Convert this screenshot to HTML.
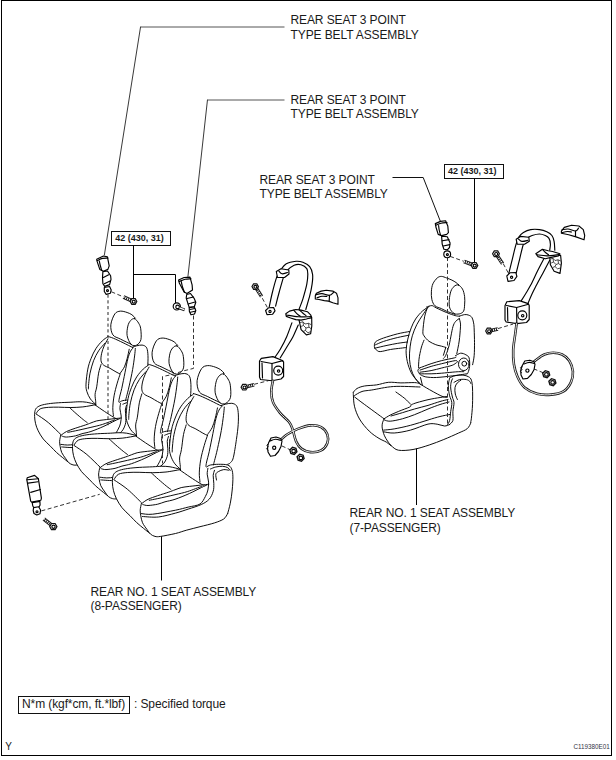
<!DOCTYPE html>
<html><head><meta charset="utf-8">
<style>
html,body{margin:0;padding:0;background:#fff;}
body{width:616px;height:760px;overflow:hidden;}
svg{display:block;}
text{font-family:"Liberation Sans",sans-serif;fill:#1a1a1a;}
.t{font-size:12px;letter-spacing:-0.1px;}
.b{font-size:9px;font-weight:bold;}
.ln{fill:none;stroke:#000;stroke-width:0.95;vector-effect:non-scaling-stroke;stroke-linejoin:round;stroke-linecap:round;}
.ld{fill:none;stroke:#555;stroke-width:1;}
.sil{fill:#fff;stroke:none;}
.parts .ln{stroke-width:1.15;}
.ds{fill:none;stroke:#333;stroke-width:1;stroke-dasharray:4 2.5;}
</style></head>
<body>
<svg width="616" height="760" viewBox="0 0 616 760">
<!-- frame -->
<rect x="1.5" y="0.5" width="610" height="755" fill="none" stroke="#000" stroke-width="1"/>

<!-- labels -->
<text class="t" x="290.5" y="24">REAR SEAT 3 POINT</text>
<text class="t" x="290.5" y="38.7">TYPE BELT ASSEMBLY</text>
<text class="t" x="290.5" y="104">REAR SEAT 3 POINT</text>
<text class="t" x="290.5" y="117.7">TYPE BELT ASSEMBLY</text>
<text class="t" x="259.5" y="184">REAR SEAT 3 POINT</text>
<text class="t" x="259.5" y="197.9">TYPE BELT ASSEMBLY</text>
<text class="t" x="349.5" y="517">REAR NO. 1 SEAT ASSEMBLY</text>
<text class="t" x="349.5" y="531.7">(7-PASSENGER)</text>
<text class="t" x="90.5" y="595.7">REAR NO. 1 SEAT ASSEMBLY</text>
<text class="t" x="90.5" y="609.8">(8-PASSENGER)</text>

<!-- torque legend -->
<rect x="18.5" y="696.5" width="111" height="17" fill="none" stroke="#111" stroke-width="1"/>
<text class="t" x="22" y="707.6">N*m (kgf*cm, ft.*lbf)</text>
<text class="t" x="134" y="707.6">: Specified torque</text>
<text x="5.2" y="750.4" style="font-size:10px">Y</text>
<text x="573.5" y="749.2" style="font-size:6.3px;fill:#334">C119380E01</text>

<!-- torque boxes -->
<rect x="111.5" y="231.5" width="59" height="14" fill="#fff" stroke="#111" stroke-width="1"/>
<text class="b" x="115.2" y="240.7">42 (430, 31)</text>

<rect x="444.5" y="164.5" width="59" height="14" fill="#fff" stroke="#111" stroke-width="1"/>
<text class="b" x="448" y="174.3">42 (430, 31)</text>
<polyline points="392.5,177.5 423.2,177.5 440.4,221.4" fill="none" stroke="#111" stroke-width="1"/>
<line x1="474.5" y1="178.6" x2="474.5" y2="262" stroke="#000" stroke-width="1"/>
<!-- leader lines -->
<line x1="284.5" y1="27" x2="140.6" y2="27" stroke="#555" stroke-width="1"/>
<line x1="140.6" y1="26.6" x2="104.3" y2="255.4" stroke="#222" stroke-width="0.9"/>
<line x1="284.5" y1="100" x2="207.5" y2="100" stroke="#555" stroke-width="1"/>
<line x1="207.5" y1="99.6" x2="187.9" y2="276.8" stroke="#222" stroke-width="0.9"/>
<line x1="133.5" y1="245.5" x2="133.5" y2="298" stroke="#000" stroke-width="1"/>
<polyline points="133.5,274.5 175.5,274.5 175.5,303" fill="none" stroke="#000" stroke-width="1"/>
<line x1="161.5" y1="536" x2="161.5" y2="580.5" stroke="#000" stroke-width="1"/>
<line x1="416.5" y1="448.5" x2="416.5" y2="505" stroke="#000" stroke-width="1"/>

<path class="ln" d="M455.1,314.4C454.4,314.1 452.3,313.3 450.9,312.8C449.5,312.3 448.3,312.0 446.7,311.3C445.1,310.6 443.3,309.5 441.4,308.6C439.4,307.7 436.6,307.3 435.0,305.8C433.4,304.3 432.5,302.1 431.9,299.7C431.3,297.3 431.2,293.8 431.4,291.2C431.6,288.6 431.9,286.0 432.9,283.8C433.9,281.6 435.8,279.2 437.2,278.0C438.6,276.8 439.8,276.4 441.4,276.4C443.0,276.4 444.9,277.4 446.7,278.0C448.4,278.6 450.3,279.4 451.9,280.1C453.4,280.9 454.9,281.7 456.0,282.5C457.1,283.3 458.3,284.6 458.8,285.0"/>
<path class="ln" d="M458.3,284.9C459.7,285.3 461.4,287.2 462.5,289.1C463.6,291.0 464.2,293.9 464.6,296.5C465.0,299.1 464.8,302.4 464.6,304.9C464.4,307.4 464.4,309.8 463.5,311.3C462.6,312.8 460.9,313.5 459.3,313.9C457.7,314.2 455.6,314.4 454.0,313.4C452.4,312.4 450.6,310.4 449.8,308.1C449.0,305.8 449.1,302.5 449.3,299.7C449.5,296.9 450.1,293.4 450.9,291.2C451.7,289.0 452.8,287.6 454.0,286.5C455.2,285.4 456.9,284.5 458.3,284.9Z"/>
<path class="ln" d="M429.0,306.7C427.9,307.4 424.5,309.1 422.3,311.2C420.1,313.2 417.5,316.2 415.6,319.0C413.8,321.8 412.5,324.5 411.2,327.9C409.9,331.2 408.6,335.4 407.8,339.1C407.0,342.8 406.2,346.6 406.1,350.3C406.0,354.0 406.5,357.8 407.3,361.5C408.1,365.2 409.6,369.5 411.2,372.6C412.8,375.8 415.1,378.3 416.8,380.4C418.5,382.4 420.5,384.1 421.2,384.9"/>
<path class="ln" d="M426.6,307.0C427.5,306.8 430.3,305.5 431.9,305.6C433.5,305.7 433.6,306.6 436.1,307.8C438.6,309.0 443.5,311.3 446.7,312.6C449.9,313.9 453.0,315.0 455.1,315.6C457.2,316.2 458.6,316.1 459.3,316.2"/>
<path class="ln" d="M459.3,316.2C460.2,315.9 463.0,314.8 464.6,314.6C466.2,314.4 467.6,314.7 468.8,315.2C470.0,315.7 471.2,316.3 472.0,317.6C472.8,318.9 473.2,320.8 473.6,322.9C474.0,325.0 474.1,326.7 474.2,330.0C474.3,333.3 474.5,338.4 474.5,342.6C474.5,346.8 474.5,351.6 474.2,355.3C473.9,359.0 472.9,363.1 472.6,364.7"/>
<path class="ln" d="M426.8,308.9C426.1,310.0 424.0,313.0 422.3,315.6C420.6,318.2 418.5,321.2 416.8,324.6C415.1,328.0 413.4,332.1 412.3,335.8C411.2,339.5 410.6,343.0 410.1,346.9C409.6,350.8 409.3,355.5 409.5,359.2C409.7,362.9 410.4,366.3 411.2,369.3C412.0,372.3 413.2,374.9 414.5,377.1C415.8,379.3 418.2,381.8 419.0,382.7"/>
<path class="ln" d="M427.4,307.8C426.9,309.3 425.4,312.9 424.6,316.8C423.9,320.7 423.0,328.1 422.9,331.3C422.8,334.5 423.0,334.1 424.0,335.8C425.0,337.5 427.0,339.8 429.0,341.3C431.0,342.8 434.0,343.9 435.8,344.7C437.6,345.4 438.3,345.4 440.0,345.8C441.7,346.2 444.8,347.1 445.8,347.4"/>
<path class="ln" d="M459.3,318.6C458.8,319.0 457.2,319.7 456.2,320.8C455.2,321.9 454.3,322.9 453.5,325.0C452.7,327.1 452.2,329.7 451.5,333.2C450.8,336.7 449.9,342.1 449.0,345.8C448.1,349.5 446.7,353.2 445.8,355.3C444.9,357.4 443.8,357.9 443.4,358.4"/>
<path class="ln" d="M459.3,318.6C459.5,319.3 460.2,321.3 460.4,322.9C460.6,324.5 460.6,325.0 460.4,328.0C460.2,331.0 459.8,336.7 459.2,341.0C458.6,345.3 457.2,351.6 456.8,353.7"/>
<path class="ln" d="M424.0,340.2C423.5,341.5 422.0,344.8 421.2,348.0C420.4,351.2 419.4,355.9 419.0,359.2C418.6,362.4 418.6,366.1 418.5,367.5"/>
<path class="ln" d="M420.5,377.5L422.3,384.9"/>
<path class="ln" d="M445.8,347.4L443.4,355.3"/>
<path class="ln" d="M419.5,368.0C421.4,367.3 427.4,364.9 431.1,363.7C434.8,362.5 437.8,361.6 441.7,360.6C445.6,359.6 451.9,358.5 454.3,357.9C456.7,357.3 455.7,357.1 456.0,357.0"/>
<path class="ln" d="M420.0,370.1C421.9,369.5 427.5,367.5 431.1,366.4C434.7,365.3 437.6,364.7 441.7,363.7C445.8,362.7 452.8,360.9 455.4,360.6C458.0,360.4 457.1,361.9 457.5,362.2"/>
<path class="ln" d="M420.0,372.2C421.9,371.9 427.5,371.3 431.1,370.6C434.7,369.9 438.2,368.9 441.7,368.0C445.2,367.1 449.8,366.2 452.2,365.3C454.6,364.4 455.7,363.1 456.4,362.7"/>
<path class="ln" d="M419.5,373.8C421.4,373.8 427.4,373.9 431.1,373.8C434.8,373.7 438.2,373.5 441.7,373.2C445.2,372.9 449.4,372.4 452.2,372.2C455.0,371.9 456.6,371.8 458.5,371.7C460.4,371.6 462.9,371.7 463.8,371.7"/>
<path class="ln" d="M419.5,368.0C419.2,368.4 417.9,369.6 417.9,370.6C417.9,371.6 419.2,373.3 419.5,373.8"/>
<path class="ln" d="M420.6,374.8C421.5,375.1 423.2,376.4 425.8,376.9C428.4,377.3 432.0,377.7 436.4,377.5C440.8,377.3 447.1,376.5 452.2,375.9C457.3,375.3 464.5,374.1 467.0,373.8"/>
<path class="ln" d="M455.4,355.8C456.3,355.4 458.9,353.4 460.6,353.2C462.4,353.0 464.5,354.0 465.9,354.8C467.3,355.6 468.5,356.0 469.1,357.9C469.7,359.8 469.8,363.9 469.6,366.4C469.4,368.9 468.4,371.5 468.0,372.7C467.6,373.9 467.2,373.6 467.0,373.8"/>
<ellipse cx="463.8" cy="364.3" rx="5.3" ry="6.3" class="ln"/><circle cx="464.3" cy="363.7" r="2.4" class="ln"/>
<path class="ln" d="M409.5,331.5C407.5,331.9 401.6,332.8 397.3,333.9C393.0,335.0 387.1,336.8 383.6,338.0C380.1,339.2 377.6,340.3 376.1,341.4C374.6,342.5 374.6,343.7 374.4,344.8C374.2,345.9 374.4,347.3 374.8,348.2C375.2,349.1 375.9,349.6 376.8,350.2C377.7,350.8 377.9,351.7 380.2,351.6C382.5,351.5 387.0,350.1 390.4,349.5C393.8,348.9 398.1,348.5 400.7,348.2C403.3,347.9 405.2,347.6 406.1,347.5"/>
<path class="ln" d="M375.5,344.8C376.9,344.2 380.0,342.6 383.6,341.4C387.2,340.2 393.1,338.6 397.3,337.6C401.5,336.6 407.0,335.6 408.9,335.2"/>
<path class="ln" d="M374.8,348.2C376.8,347.7 383.2,346.2 387.0,345.4C390.8,344.6 393.9,344.0 397.3,343.4C400.7,342.8 405.8,342.2 407.5,342.0"/>
<path class="ln" d="M353.4,392.2C354.0,391.6 355.2,389.5 357.0,388.5C358.8,387.5 361.1,386.6 364.4,386.0C367.6,385.4 372.4,385.5 376.5,384.9C380.6,384.3 384.6,382.6 388.7,382.3C392.8,382.0 396.6,382.8 400.9,382.9C405.2,382.9 411.7,382.5 414.7,382.6C417.7,382.7 418.3,383.3 419.0,383.4"/>
<path class="ln" d="M353.4,392.2C353.4,392.8 353.2,393.6 353.4,396.0C353.6,398.4 353.6,403.0 354.6,406.8C355.6,410.6 357.1,414.9 359.5,419.0C361.9,423.1 365.9,427.9 369.2,431.1C372.4,434.3 376.1,436.6 379.0,438.4C381.9,440.2 384.3,440.9 386.3,442.1C388.3,443.3 389.1,444.4 391.1,445.7C393.1,447.0 394.8,449.6 398.4,450.2C402.0,450.8 407.9,450.4 413.0,449.5C418.1,448.6 424.1,446.7 429.2,445.0C434.3,443.3 438.9,441.5 443.8,439.5C448.7,437.5 454.5,434.9 458.4,433.1C462.3,431.3 465.1,430.4 467.2,428.7C469.3,427.0 470.3,423.8 470.9,422.8"/>
<path class="ln" d="M419.0,383.4C420.2,384.1 422.7,385.7 426.3,387.8C429.9,389.9 437.5,394.2 440.9,395.8C444.3,397.4 445.8,397.1 446.8,397.3"/>
<path class="ln" d="M449.6,377.9C450.5,377.5 453.0,376.2 455.2,375.7C457.4,375.2 460.8,374.9 463.0,375.1C465.2,375.3 467.2,376.0 468.6,376.8C470.0,377.6 470.8,378.3 471.4,380.2C472.0,382.1 472.3,383.9 472.5,388.0C472.7,392.1 472.7,399.8 472.5,404.8C472.3,409.8 471.7,415.2 471.4,418.2C471.1,421.2 470.6,422.0 470.5,422.8"/>
<path class="ln" d="M454.0,382.4C454.9,381.9 457.5,380.1 459.6,379.6C461.7,379.1 464.7,379.3 466.4,379.6C468.1,379.9 469.0,380.7 469.7,381.3C470.4,381.9 470.6,383.1 470.8,383.5"/>
<path class="ln" d="M461.0,380.2C460.4,380.7 458.2,381.8 457.2,383.0C456.2,384.2 455.3,385.7 455.0,387.5C454.7,389.3 454.9,392.0 455.3,394.0C455.7,396.0 457.0,398.6 457.4,399.5"/>
<path class="ln" d="M449.6,378.5C449.4,379.2 448.8,381.4 448.6,383.0C448.4,384.6 448.2,385.9 448.4,388.0C448.6,390.1 449.0,393.4 449.6,395.8C450.2,398.2 451.6,400.0 451.8,402.6C452.0,405.2 451.1,408.5 450.7,411.5C450.3,414.5 450.2,418.2 449.6,420.5C449.0,422.8 447.7,424.2 447.3,425.0"/>
<path class="ln" d="M452.5,378.8C452.3,379.3 451.5,380.5 451.2,382.0C450.9,383.5 450.5,385.5 450.7,388.0C450.9,390.5 451.8,394.6 452.4,397.0C452.9,399.4 453.9,400.2 454.0,402.6C454.1,405.0 453.1,408.5 452.9,411.5C452.7,414.5 453.4,418.4 452.9,420.5C452.3,422.6 450.2,423.8 449.6,424.4"/>
<path class="ln" d="M354.6,395.5C355.8,394.8 359.1,392.4 362.0,391.5C364.9,390.6 366.4,390.8 371.7,390.0C377.0,389.2 385.6,387.0 393.6,386.5C401.7,386.0 415.6,386.9 420.0,387.0"/>
<path class="ln" d="M354.6,397.0C356.2,398.2 359.4,400.7 364.3,404.3C369.2,407.9 380.8,416.4 384.1,418.8"/>
<path class="ln" d="M395.9,392.0C397.4,393.1 402.4,396.5 404.8,398.5C407.2,400.5 409.6,403.2 410.5,404.2"/>
<path class="ln" d="M384.1,418.8C385.1,418.2 387.8,416.3 390.2,415.1C392.6,413.9 395.1,412.9 398.3,411.5C401.6,410.1 407.5,408.1 409.7,407.0C411.9,405.9 410.1,405.5 411.3,404.8C412.5,404.1 414.2,403.5 417.0,402.6C419.8,401.8 424.1,400.6 428.0,399.7C431.9,398.8 436.9,398.0 440.1,397.5C443.3,397.0 445.9,396.7 447.0,396.5"/>
<path class="ln" d="M391.0,416.0C392.9,415.4 398.5,413.9 402.4,412.7C406.3,411.5 410.2,410.2 414.5,409.0C418.8,407.8 423.8,406.6 428.0,405.4C432.2,404.1 436.7,402.5 440.0,401.5C443.3,400.5 446.7,399.8 448.0,399.5"/>
<path class="ln" d="M384.5,420.0C385.4,420.2 387.2,421.4 390.2,421.2C393.2,421.0 398.3,419.9 402.4,418.8C406.4,417.7 410.2,416.3 414.5,414.7C418.8,413.1 423.8,410.7 428.0,409.0C432.2,407.3 436.5,405.7 440.0,404.5C443.5,403.3 447.5,402.4 449.0,402.0"/>
<path class="ln" d="M383.7,430.1C385.4,429.9 389.7,429.7 394.2,428.9C398.7,428.1 404.9,426.8 410.5,425.3C416.1,423.8 423.1,421.5 428.0,420.0C432.9,418.5 436.4,417.4 440.0,416.5C443.6,415.6 448.0,414.8 449.6,414.5"/>
<path class="ln" d="M384.1,418.8C383.8,419.5 382.8,421.5 382.5,422.8C382.2,424.1 382.0,425.5 382.1,426.9C382.2,428.3 382.5,429.5 382.9,431.0C383.3,432.5 383.7,434.1 384.5,435.8C385.3,437.5 386.4,439.4 387.5,441.0C388.6,442.6 390.5,444.9 391.1,445.7"/>
<path class="ln" d="M383.7,431.8C385.4,432.0 389.7,433.3 394.2,433.0C398.7,432.7 404.9,431.6 410.5,430.1C416.1,428.6 423.6,425.1 428.0,424.1C432.4,423.1 434.4,423.9 437.2,424.2C439.9,424.5 442.4,425.9 444.5,426.0C446.6,426.1 448.8,424.8 449.6,424.5"/>
<path class="ds" d="M447.5,257.0 L447.5,424.3"/>
<defs><g id="seat">
<path class="sil" d="M197.5,382.1C197.4,379.1 197.2,376.2 197.9,373.8C198.6,371.4 199.7,369.0 201.4,367.6C203.1,366.2 205.8,365.1 208.3,365.2C210.8,365.3 214.1,367.1 216.6,368.3C219.1,369.5 221.4,370.3 223.5,372.4C225.6,374.5 227.7,377.9 229.0,380.7C230.3,383.5 231.0,386.0 231.1,389.0C231.2,392.0 230.0,396.1 229.7,398.6C229.3,401.1 228.2,402.9 229.0,404.2C229.8,405.5 233.1,405.0 234.5,406.2C235.9,407.4 236.7,408.5 237.3,411.1C237.9,413.8 238.0,418.0 238.0,422.1C238.0,426.2 237.5,431.3 237.3,435.9C237.1,440.5 236.9,445.7 236.6,449.7C236.3,453.7 236.3,457.3 235.5,460.0C234.7,462.7 232.0,463.2 231.6,466.0C231.2,468.8 232.8,472.8 232.9,476.8C233.0,480.8 232.6,485.6 232.2,490.0C231.8,494.4 231.1,499.2 230.3,503.2C229.5,507.1 228.7,511.1 227.6,513.7C226.5,516.3 225.9,517.5 223.7,519.0C221.5,520.5 218.4,521.6 214.5,522.9C210.6,524.2 204.6,525.5 200.0,526.7C195.4,527.9 190.9,529.0 186.8,530.1C182.7,531.2 179.8,532.5 175.5,533.5C171.2,534.5 164.1,535.9 160.7,536.4C157.3,536.9 156.7,536.8 155.0,536.4C153.3,536.0 152.4,535.4 150.5,534.1C148.6,532.8 145.9,530.3 143.6,528.4C141.3,526.5 139.1,524.8 136.8,522.7C134.5,520.6 132.5,518.2 130.0,515.7C127.5,513.2 124.3,510.6 122.0,507.7C119.7,504.8 117.8,501.4 116.4,498.6C115.0,495.8 114.2,493.4 113.5,490.7C112.8,488.0 112.5,485.2 112.4,482.7C112.3,480.2 112.5,477.6 113.0,475.9C113.5,474.2 114.1,473.4 115.2,472.5C116.3,471.6 117.7,470.9 119.8,470.2C121.9,469.5 124.5,469.0 127.7,468.5C130.9,468.0 134.9,467.7 139.1,467.4C143.3,467.1 148.9,467.0 152.7,466.8C156.5,466.6 158.9,466.3 161.8,466.3C164.7,466.3 166.9,466.3 170.0,466.8C173.1,467.3 179.7,469.9 180.4,469.3C181.1,468.7 176.1,465.6 174.4,463.2C172.8,460.8 171.3,457.8 170.5,455.0C169.7,452.2 169.3,450.9 169.5,446.7C169.7,442.5 170.6,434.8 171.5,430.0C172.4,425.2 173.7,421.9 175.2,418.0C176.7,414.1 178.6,410.1 180.7,406.9C182.8,403.7 185.5,400.7 187.6,398.6C189.7,396.5 191.3,395.6 193.1,394.5C194.9,393.4 197.8,394.1 198.5,392.0C199.2,389.9 197.6,385.1 197.5,382.1Z"/>
<path class="ln" d="M220.0,402.6C217.9,401.6 211.1,398.4 207.7,396.6C204.3,394.8 201.2,394.6 199.4,392.0C197.6,389.4 196.7,384.6 197.1,380.7C197.5,376.8 199.8,371.1 201.6,368.6C203.4,366.1 205.4,365.9 207.7,365.6C210.0,365.4 213.1,366.4 215.2,367.1C217.3,367.8 219.0,368.6 220.5,369.6C222.0,370.6 223.6,372.7 224.2,373.3"/>
<path class="ln" d="M223.5,373.9C225.0,374.4 226.9,377.1 228.0,379.0C229.1,380.9 229.9,382.1 230.3,385.2C230.7,388.2 231.2,394.3 230.5,397.3C229.8,400.3 227.6,402.4 225.8,403.3C224.0,404.2 221.5,404.4 219.7,402.6C217.9,400.9 215.8,396.2 215.2,392.8C214.6,389.4 215.4,385.0 216.0,382.2C216.6,379.4 217.8,377.5 219.0,376.1C220.2,374.7 222.0,373.4 223.5,373.9Z"/>
<path class="ln" d="M193.3,393.5C194.4,393.9 197.2,394.6 200.1,395.8C203.0,397.0 207.2,399.0 210.7,400.7C214.2,402.4 219.5,405.1 221.3,406.0"/>
<path class="ln" d="M221.3,405.6C222.1,405.4 224.1,404.5 225.8,404.1C227.6,403.7 230.0,403.1 231.8,403.3C233.6,403.6 235.3,404.1 236.4,405.6C237.5,407.1 237.9,409.2 238.2,412.4C238.5,415.5 238.5,420.0 238.2,424.5C237.9,429.0 237.2,434.1 236.4,439.6C235.6,445.1 234.3,453.8 233.3,457.7C232.3,461.6 231.2,461.7 230.3,462.8C229.4,463.9 228.1,464.1 227.6,464.3"/>
<path class="ln" d="M193.1,394.5C192.2,395.2 189.7,396.5 187.6,398.6C185.5,400.7 182.8,403.7 180.7,406.9C178.6,410.1 176.7,414.1 175.2,418.0C173.7,421.9 172.4,425.2 171.5,430.0C170.6,434.8 169.7,442.5 169.5,446.7C169.3,450.9 169.7,452.2 170.5,455.0C171.3,457.8 172.8,460.8 174.4,463.2C176.1,465.6 179.4,468.3 180.4,469.3"/>
<path class="ln" d="M190.4,401.4C189.2,402.8 185.6,406.5 183.5,409.7C181.4,412.9 179.5,416.6 177.9,420.7C176.3,424.8 174.9,430.3 174.0,434.5C173.1,438.7 172.8,443.1 172.5,446.0C172.2,448.9 172.2,451.0 172.2,452.0"/>
<path class="ln" d="M193.8,396.6C193.1,397.9 190.8,401.6 189.7,404.2C188.5,406.8 187.5,409.6 186.9,412.4C186.3,415.1 185.8,418.5 186.2,420.7C186.5,422.9 187.4,424.1 189.0,425.5C190.6,426.9 193.6,427.7 195.9,429.0C198.2,430.3 201.0,432.1 202.8,433.1C204.6,434.1 206.2,434.9 206.9,435.2"/>
<path class="ln" d="M217.5,407.9C217.1,409.6 216.1,415.1 215.2,418.4C214.3,421.7 213.4,424.9 212.2,427.5C210.9,430.1 208.4,433.2 207.7,434.3"/>
<path class="ln" d="M224.3,407.1C224.2,408.5 224.0,411.5 223.5,415.4C223.0,419.3 222.3,424.9 221.3,430.5C220.3,436.1 218.6,443.7 217.5,448.7C216.4,453.7 215.2,458.0 214.5,460.7C213.8,463.4 213.6,464.3 213.4,465.0"/>
<path class="ln" d="M222.0,406.4C221.5,407.0 220.0,408.1 219.0,410.1C218.0,412.1 217.0,414.5 216.0,418.4C215.0,422.3 214.0,427.9 212.9,433.5C211.8,439.1 210.2,446.9 209.2,451.7C208.1,456.4 207.1,459.6 206.6,462.0C206.1,464.4 206.0,465.6 205.9,466.3"/>
<path class="ln" d="M186.2,424.9C185.8,426.5 184.3,430.4 183.5,434.5C182.7,438.6 182.1,445.8 181.4,449.7C180.8,453.6 179.8,455.2 179.6,458.0C179.4,460.8 180.2,464.2 180.3,466.3C180.4,468.4 180.3,469.6 180.3,470.3"/>
<path class="ln" d="M207.6,435.2C207.0,436.9 205.3,441.5 204.2,445.6C203.0,449.7 201.5,455.1 200.7,459.7C199.9,464.2 199.4,469.2 199.3,472.9C199.2,476.6 199.9,480.6 200.0,482.1"/>
<path class="ln" d="M180.4,469.3C178.7,468.9 173.1,467.3 170.0,466.8C166.9,466.3 164.7,466.3 161.8,466.3C158.9,466.3 156.5,466.6 152.7,466.8C148.9,467.0 143.3,467.1 139.1,467.4C134.9,467.7 130.9,468.0 127.7,468.5C124.5,469.0 121.9,469.5 119.8,470.2C117.7,470.9 116.3,471.6 115.2,472.5C114.1,473.4 113.5,474.2 113.0,475.9C112.5,477.6 112.3,480.2 112.4,482.7C112.5,485.2 112.8,488.0 113.5,490.7C114.2,493.4 115.0,495.8 116.4,498.6C117.8,501.4 119.7,504.8 122.0,507.7C124.3,510.6 127.5,513.2 130.0,515.7C132.5,518.2 134.5,520.6 136.8,522.7C139.1,524.8 141.5,526.7 143.6,528.4C145.7,530.1 148.4,532.2 149.3,533.0"/>
<path class="ln" d="M114.1,479.3C114.8,478.4 116.3,475.3 118.6,474.2C120.9,473.1 124.3,472.8 127.7,472.5C131.1,472.2 134.9,472.3 139.1,472.3C143.3,472.3 148.2,472.8 152.7,472.7C157.2,472.6 161.4,472.5 166.0,472.0C170.6,471.5 177.8,470.0 180.2,469.6"/>
<path class="ln" d="M151.6,473.1C152.7,474.1 155.9,477.1 158.4,479.3C160.9,481.5 164.3,484.4 166.4,486.1C168.5,487.8 170.2,488.9 170.9,489.5"/>
<path class="ln" d="M114.1,479.9C116.4,481.5 123.2,485.7 127.7,489.5C132.2,493.3 139.1,500.4 141.4,502.6"/>
<path class="ln" d="M180.3,470.3C181.9,471.4 186.7,474.8 190.0,477.0C193.3,479.2 197.7,482.0 200.0,483.4C202.3,484.8 203.2,485.1 203.9,485.4"/>
<path class="ln" d="M141.8,503.5C142.8,502.8 145.3,500.6 148.0,499.3C150.7,498.0 154.2,496.9 157.7,495.7C161.2,494.5 165.9,493.1 168.8,492.1C171.7,491.1 172.9,490.6 175.0,489.8C177.1,489.1 178.8,488.2 181.2,487.6C183.6,487.0 186.2,486.8 189.4,486.4C192.7,486.0 197.5,485.5 200.7,485.1C203.9,484.8 207.5,484.4 208.8,484.3"/>
<path class="ln" d="M149.3,500.3C150.7,500.0 153.4,499.5 157.7,498.6C162.0,497.7 170.0,495.9 175.0,494.7C180.0,493.5 183.3,492.9 187.7,491.5C192.1,490.1 199.2,487.2 201.5,486.4"/>
<path class="ln" d="M142.8,504.5C143.7,504.7 145.5,505.6 148.0,505.5C150.5,505.4 154.9,504.8 157.7,504.2C160.5,503.6 162.1,502.6 165.0,501.8C167.9,501.0 170.9,500.7 175.0,499.3C179.1,497.9 185.0,495.5 189.4,493.5C193.8,491.5 198.6,488.9 201.5,487.5C204.4,486.1 206.1,485.4 207.0,485.0"/>
<path class="ln" d="M141.4,503.5C141.2,504.6 140.3,508.1 140.2,510.2C140.1,512.3 140.4,513.8 140.8,515.9C141.2,518.0 141.5,520.4 142.5,522.7C143.5,525.0 145.7,527.6 147.0,529.5C148.3,531.4 149.2,533.0 150.5,534.1C151.8,535.2 153.3,536.0 155.0,536.4C156.7,536.8 157.3,536.9 160.7,536.4C164.1,535.9 171.2,534.5 175.5,533.5C179.8,532.5 182.7,531.2 186.8,530.1C190.9,529.0 195.4,527.9 200.0,526.7C204.6,525.5 210.6,524.2 214.5,522.9C218.4,521.6 221.5,520.5 223.7,519.0C225.9,517.5 226.9,514.6 227.6,513.7"/>
<path class="ln" d="M141.4,513.6C143.3,513.7 147.0,514.8 152.7,514.2C158.4,513.6 169.6,511.4 175.5,510.2C181.4,509.0 184.1,508.1 188.2,507.1C192.3,506.1 197.2,505.8 200.0,504.0C202.8,502.2 204.0,498.9 205.3,496.6C206.6,494.3 207.4,492.4 207.9,490.0C208.4,487.6 208.7,484.7 208.6,482.1C208.5,479.5 207.3,476.5 207.2,474.2C207.1,471.9 207.8,469.3 207.9,468.3"/>
<path class="ln" d="M142.5,516.5C145.2,516.6 152.9,517.6 158.4,517.0C163.9,516.4 170.5,514.4 175.5,513.1C180.5,511.8 183.9,510.5 188.2,509.1C192.5,507.7 197.8,506.1 201.3,504.5C204.8,502.9 207.2,501.4 209.2,499.2C211.2,497.0 212.4,493.9 213.2,491.3C214.0,488.7 213.8,486.0 213.8,483.4C213.8,480.8 213.1,477.7 213.2,475.5C213.3,473.3 214.3,471.2 214.5,470.3"/>
<path class="ln" d="M206.6,467.0C207.2,466.7 208.5,465.4 210.5,465.0C212.5,464.6 215.6,464.3 218.4,464.3C221.2,464.3 225.4,464.2 227.6,465.0C229.8,465.8 230.7,466.9 231.6,468.9C232.5,470.9 232.8,473.3 232.9,476.8C233.0,480.3 232.6,485.6 232.2,490.0C231.8,494.4 231.1,499.2 230.3,503.2C229.5,507.1 228.1,512.0 227.6,513.7"/>
<path class="ln" d="M210.5,469.0C211.4,468.7 213.8,467.4 215.8,467.0C217.8,466.6 220.4,466.2 222.4,466.3C224.4,466.4 226.3,466.9 227.6,467.6C228.9,468.3 229.9,469.9 230.3,470.3"/>
<path class="ln" d="M216.5,480.0C216.4,479.0 215.5,475.6 215.8,474.2C216.1,472.8 217.1,472.4 218.4,471.6C219.7,470.8 221.9,469.8 223.7,469.6C225.5,469.4 228.1,470.2 229.0,470.3"/>
</g></defs>
<use href="#seat" transform="translate(-66.55,-17.9) scale(0.9)"/>
<use href="#seat" transform="translate(-33.15,-5.6) scale(0.94)"/>
<use href="#seat"/>
<g class="parts">
<line x1="108" y1="294.5" x2="108" y2="427.2" stroke="#3a3a3a" stroke-width="1.1" stroke-dasharray="3.2 2.6"/>
<path class="ds" d="M193.5,315.5 L193.5,368.4 L182.6,371.1 L171.1,374.8 L162.5,376.5 L162.5,463.5"/>
<path class="ds" d="M41.4,510.9 L99.7,494.3"/>
<path class="ds" d="M111.4,291.8 L123.0,296.7"/>
<path class="ln" d="M96.7,259.2 L103.4,256.0 L107.4,256.9 L109.2,265.9 L107.9,269.4 L103.4,271.2 L99.8,269.4 L97.1,261.4Z" style="fill:#fff"/>
<path class="ln" d="M97.3,260.6C98.2,260.2 100.7,258.8 102.5,258.4C104.3,258.0 107.1,258.1 108.0,258.0"/>
<path class="ln" d="M99.3,261.0C99.5,261.8 99.9,263.9 100.3,265.5C100.7,267.1 101.5,269.7 101.8,270.5"/>
<path class="ln" d="M102.9,271.6 L107.5,271.0 L110.6,275.7 L111.0,279.3 L109.6,284.6 L104.7,286.4 L102.9,283.7 L102.5,277.5Z" style="fill:#fff"/>
<path class="ln" d="M103.4,277.5 L108.7,274.8"/>
<path class="ln" d="M104.3,283.7 L110.1,281.0"/>
<path class="ln" d="M104.3,287.5 L109.6,286.5 L111.2,290.0 L110.4,293.2 L106.2,294.4 L104.3,291.5Z" style="fill:#fff"/>
<circle class="ln" cx="107.5" cy="290.6" r="1.0" style="fill:#fff"/>
<line x1="123.5" y1="296.9" x2="133.5" y2="301.5" stroke="#1a1a1a" stroke-width="3.8"/>
<line x1="123.5" y1="296.9" x2="133.5" y2="301.5" stroke="#fff" stroke-width="1.9999999999999998" stroke-dasharray="1 1"/>
<polygon points="136.8,301.5 135.2,304.4 131.8,304.4 130.2,301.5 131.8,298.6 135.2,298.6" fill="#fff" stroke="#111" stroke-width="1.2"/>
<circle class="ln" cx="133.7" cy="301.7" r="1.4849999999999999" style="fill:#fff"/>
<path class="ln" d="M178.6,280.1 L184.1,277.5 L190.0,277.1 L192.1,284.8 L192.5,289.9 L187.0,293.6 L184.1,292.1 L179.4,283.3Z" style="fill:#fff"/>
<path class="ln" d="M179.2,281.5C180.2,281.1 183.0,279.8 185.0,279.3C187.0,278.9 190.0,278.9 191.0,278.8"/>
<path class="ln" d="M181.3,281.5C181.5,282.4 181.9,285.2 182.5,287.0C183.1,288.8 184.2,291.6 184.6,292.5"/>
<path class="ln" d="M186.7,294.5 L190.5,293.5 L194.3,298.7 L195.8,302.3 L194.3,306.7 L189.2,307.4 L187.8,303.1 L186.2,298.0Z" style="fill:#fff"/>
<path class="ln" d="M187.0,298.5 L193.5,297.0"/>
<path class="ln" d="M188.2,304.0 L195.0,302.0"/>
<path class="ln" d="M189.2,307.6 L194.3,306.9 L195.8,310.5 L194.5,314.0 L191.0,314.8 L189.4,311.5Z" style="fill:#fff"/>
<path class="ln" d="M190.0,309.5 L194.8,308.5"/>
<path class="ln" d="M190.4,312.3 L195.0,311.2"/>
<circle class="ln" cx="176.8" cy="306.4" r="3.6" style="fill:#fff"/>
<circle class="ln" cx="177.6" cy="306.9" r="1.8" style="fill:#fff"/>
<line x1="179" y1="307.8" x2="184.6" y2="309.8" stroke="#1a1a1a" stroke-width="3"/>
<line x1="179.4" y1="307.9" x2="184.3" y2="309.6" stroke="#fff" stroke-width="1.2"/>
<path class="ln" d="M26.8,479.7 L27.2,477.8 L34.6,475.4 L38.4,478.8 L41.4,498.2 L40.9,500.2 L31.6,502.1 L30.7,501.2Z" style="fill:#fff"/>
<path class="ln" d="M27.2,479.7 L38.4,478.8"/>
<path class="ln" d="M28.2,483.1 L38.0,481.7"/>
<path class="ln" d="M30.7,492.4 L40.4,489.5"/>
<path class="ln" d="M32.2,502.6 L39.9,501.4 L40.1,505.0 L38.6,507.8 L34.5,508.8 L32.8,506.0Z" style="fill:#fff"/>
<path class="ln" d="M33.6,507.6 L38.6,506.8 L40.6,510.0 L40.0,513.8 L36.8,515.0 L34.0,513.5 L33.2,510.5Z" style="fill:#fff"/>
<circle class="ln" cx="37" cy="511.7" r="1.0" style="fill:#fff"/>
<line x1="43.8" y1="518.9" x2="53.3" y2="526.6" stroke="#1a1a1a" stroke-width="3.8"/>
<line x1="43.8" y1="518.9" x2="53.3" y2="526.6" stroke="#fff" stroke-width="1.9999999999999998" stroke-dasharray="1 1"/>
<polygon points="56.9,526.6 55.1,529.7 51.5,529.7 49.7,526.6 51.5,523.5 55.1,523.5" fill="#fff" stroke="#111" stroke-width="1.2"/>
<circle class="ln" cx="53.5" cy="526.8000000000001" r="1.62" style="fill:#fff"/>
<path class="ds" d="M262.3,298.2 L268.6,309.8"/>
<path class="ds" d="M254.1,384.3 L268.4,380.7"/>
<path class="ds" d="M281.8,445.9 L291.6,450.4"/>
<path class="ln" d="M269.3,306.6C269.8,304.5 270.8,298.9 272.0,294.0C273.2,289.1 275.3,281.2 276.6,277.4C277.9,273.6 278.4,273.3 280.0,271.0C281.6,268.7 283.6,265.4 286.3,263.8C289.0,262.2 293.3,261.6 296.1,261.3C298.9,261.1 300.6,261.4 302.9,262.3C305.2,263.2 308.1,264.7 309.7,266.7C311.3,268.7 312.2,271.6 312.6,274.5C313.0,277.4 312.6,280.6 312.1,284.2C311.6,287.8 310.8,291.7 309.7,295.9C308.6,300.1 306.4,307.2 305.8,309.5"/>
<path class="ln" d="M275.6,306.1C276.2,303.6 278.1,296.0 279.5,291.0C280.9,286.0 282.8,279.2 283.9,275.9C285.0,272.6 284.6,272.9 286.3,271.1C288.0,269.3 291.7,266.3 294.1,265.2C296.6,264.1 298.9,264.1 301.0,264.7C303.1,265.3 305.7,267.0 306.8,268.6C307.9,270.2 307.8,271.9 307.8,274.5C307.8,277.1 307.6,280.1 306.8,284.2C306.0,288.2 304.2,294.6 302.9,298.8C301.6,303.0 299.6,307.7 299.0,309.5"/>
<path class="ln" d="M276.3,271.5 L281.0,268.8 L288.8,270.0 L289.0,274.0 L284.5,277.5 L277.5,277.5Z" style="fill:#fff"/>
<path class="ln" d="M279.0,271.2C279.5,271.6 280.6,273.6 282.0,273.8C283.4,274.0 286.6,272.7 287.5,272.5"/>
<path class="ln" d="M265.6,310.5 L268.5,307.8 L273.6,307.5 L275.0,310.8 L272.5,314.3 L267.0,314.6Z" style="fill:#fff"/>
<circle class="ln" cx="270" cy="311.5" r="1.1" style="fill:#fff"/>
<line x1="261.6" y1="296.5" x2="255.2" y2="286.6" stroke="#1a1a1a" stroke-width="3.6"/>
<line x1="261.6" y1="296.5" x2="255.2" y2="286.6" stroke="#fff" stroke-width="1.8" stroke-dasharray="1 1"/>
<polygon points="258.4,286.6 256.8,289.4 253.6,289.4 252.0,286.6 253.6,283.8 256.8,283.8" fill="#fff" stroke="#111" stroke-width="1.2"/>
<circle class="ln" cx="255.39999999999998" cy="286.8" r="1.4400000000000002" style="fill:#fff"/>
<path class="ln" d="M291.9,322.9C291.0,325.2 288.6,332.3 286.7,336.7C284.8,341.1 282.3,345.8 280.3,349.3C278.3,352.8 275.5,356.4 274.5,357.8"/>
<path class="ln" d="M298.3,325.0C297.4,326.9 294.9,333.0 293.0,336.7C291.1,340.4 288.8,343.7 286.7,347.2C284.6,350.7 281.4,356.0 280.3,357.8"/>
<path class="ln" d="M299.0,319.8 L311.7,317.8 L311.8,326.0 L310.6,333.8 L306.4,334.9 L301.1,329.6Z" style="fill:#fff"/>
<path d="M300,322.5 L303,321.8 L305,324 L308.5,323.3 L311.5,324.8 M300.8,326.5 L303.5,325.5 L306,328 L309,327.2 L311.5,329 M303,331.5 L305.5,330.5 L308,332.8 L310.8,331.5 M303,321.8 L303.5,325.5 M308.5,323.3 L309,327.2 M305.5,330.5 L306,328" stroke="#222" stroke-width="0.8" fill="none"/>
<path class="ln" d="M285.8,313.8 L289.5,311.1 L295.8,309.5 L301.1,310.1 L307.4,311.7 L310.6,314.8 L311.7,317.5 L306.4,319.0 L301.1,320.1 L295.8,319.6 L290.6,318.0 L286.3,316.4Z" style="fill:#fff"/>
<path class="ln" d="M286.5,315.0C288.5,315.3 294.4,316.5 298.5,316.8C302.6,317.1 308.9,316.6 311.0,316.6"/>
<path class="ln" d="M293.8,310.2C294.3,310.8 295.7,312.6 296.8,313.6C297.9,314.6 299.7,315.9 300.3,316.3"/>
<path class="ln" d="M299.4,309.9C300.0,310.4 301.9,312.3 303.0,313.2C304.1,314.1 305.5,315.1 306.0,315.5"/>
<path class="ln" d="M259.5,361.0 L261.3,358.4 L272.9,356.6 L281.8,360.2 L283.6,362.0 L283.6,376.5 L281.0,379.0 L272.0,380.7 L260.5,379.5 L259.5,377.0Z" style="fill:#fff"/>
<path class="ln" d="M261.0,361.5 L272.0,363.5 L282.8,360.6"/>
<path class="ln" d="M272.0,363.5 L272.0,380.5"/>
<path class="ln" d="M262.0,363.0 L262.5,378.0"/>
<circle class="ln" cx="278.2" cy="370.6" r="4.5" style="fill:#fff"/>
<circle class="ln" cx="278.6" cy="371" r="1.2" style="fill:#fff"/>
<line x1="254.1" y1="384.8" x2="244.3" y2="387.2" stroke="#1a1a1a" stroke-width="3.6"/>
<line x1="254.1" y1="384.8" x2="244.3" y2="387.2" stroke="#fff" stroke-width="1.8" stroke-dasharray="1 1"/>
<polygon points="247.5,387.2 245.9,390.0 242.7,390.0 241.1,387.2 242.7,384.4 245.9,384.4" fill="#fff" stroke="#111" stroke-width="1.2"/>
<circle class="ln" cx="244.5" cy="387.4" r="1.4400000000000002" style="fill:#fff"/>
<path d="M272.9,380.7C272.6,382.5 271.3,387.8 271.3,391.4C271.3,395.0 271.6,398.5 273.0,402.1C274.4,405.7 277.4,409.6 280.0,412.9C282.6,416.2 286.8,419.1 288.9,421.8C291.0,424.5 291.3,425.6 292.5,428.9C293.7,432.2 294.6,438.1 296.1,441.4C297.6,444.7 299.0,446.8 301.4,448.6C303.8,450.4 307.1,451.8 310.4,452.1C313.7,452.4 318.3,451.9 321.1,450.4C323.9,448.9 326.3,445.9 327.3,443.2C328.3,440.5 328.3,437.0 327.3,434.3C326.3,431.6 323.9,428.6 321.1,427.1C318.3,425.6 314.3,425.1 310.4,425.4C306.5,425.7 301.8,427.4 297.9,428.9C294.0,430.4 289.9,432.6 287.0,434.5C284.1,436.4 281.6,439.1 280.5,440.0" fill="none" stroke="#1a1a1a" stroke-width="2.6" stroke-linecap="round"/>
<path d="M272.9,380.7C272.6,382.5 271.3,387.8 271.3,391.4C271.3,395.0 271.6,398.5 273.0,402.1C274.4,405.7 277.4,409.6 280.0,412.9C282.6,416.2 286.8,419.1 288.9,421.8C291.0,424.5 291.3,425.6 292.5,428.9C293.7,432.2 294.6,438.1 296.1,441.4C297.6,444.7 299.0,446.8 301.4,448.6C303.8,450.4 307.1,451.8 310.4,452.1C313.7,452.4 318.3,451.9 321.1,450.4C323.9,448.9 326.3,445.9 327.3,443.2C328.3,440.5 328.3,437.0 327.3,434.3C326.3,431.6 323.9,428.6 321.1,427.1C318.3,425.6 314.3,425.1 310.4,425.4C306.5,425.7 301.8,427.4 297.9,428.9C294.0,430.4 289.9,432.6 287.0,434.5C284.1,436.4 281.6,439.1 280.5,440.0" fill="none" stroke="#fff" stroke-width="0.9" stroke-linecap="round"/>
<path class="ln" d="M268.5,443.0 L271.0,438.0 L276.0,437.0 L280.5,438.5 L282.0,441.0 L281.0,446.5 L278.5,451.5 L275.0,455.5 L270.5,456.3 L268.0,452.0 L267.5,447.5Z" style="fill:#fff"/>
<path class="ln" d="M270.0,441.0C270.9,440.7 273.7,439.4 275.5,439.3C277.3,439.2 279.9,440.1 280.8,440.3"/>
<path d="M268.6,443.5 L266.8,445.2 L268.3,446.8 L266.6,448.8 L268.2,450.4" stroke="#111" stroke-width="1" fill="none"/>
<circle class="ln" cx="274.2" cy="447.8" r="1.6" style="fill:#fff"/>
<polygon points="296.9,451.8 294.3,454.4 290.9,453.4 289.9,450.0 292.5,447.4 295.9,448.4" fill="#fff" stroke="#111" stroke-width="1.4"/>
<circle class="ln" cx="293.59999999999997" cy="451.09999999999997" r="1.8" style="fill:#fff"/>
<polygon points="304.1,458.6 301.5,461.2 298.1,460.2 297.1,456.8 299.7,454.2 303.1,455.2" fill="#fff" stroke="#111" stroke-width="1.4"/>
<circle class="ln" cx="300.8" cy="457.9" r="1.8" style="fill:#fff"/>
<path class="ln" d="M315.3,295.8 L316.4,293.2 L321.2,291.1 L326.4,290.3 L332.8,291.1 L336.5,293.2 L338.0,297.9 L338.0,304.3 L332.8,302.7 L328.5,301.1 L324.3,300.6 L319.0,299.5 L315.3,299.0Z" style="fill:#fff"/>
<path class="ln" d="M316.0,294.6C317.0,294.4 319.8,293.5 322.0,293.6C324.2,293.7 327.6,295.5 329.5,295.3C331.4,295.1 332.8,293.0 333.5,292.5"/>
<path class="ln" d="M329.5,295.3L329.2,300.8"/>
<path class="ln" d="M317.0,297.8C317.8,297.6 320.4,296.5 322.0,296.3C323.6,296.1 326.0,296.4 326.8,296.4"/>
<path class="ds" d="M450.1,256.4 L463.8,261.3"/>
<path class="ln" d="M435.3,223.6 L440.5,221.4 L445.6,220.8 L447.8,225.9 L448.4,232.7 L446.7,234.4 L441.6,235.6 L438.2,234.4 L435.9,227.0Z" style="fill:#fff"/>
<path class="ln" d="M436.0,225.2C436.8,224.9 439.2,223.6 441.0,223.2C442.8,222.8 446.0,222.7 447.0,222.6"/>
<path class="ln" d="M438.6,225.6C438.7,226.3 438.9,228.4 439.2,230.0C439.5,231.6 440.3,234.2 440.5,235.0"/>
<path class="ln" d="M441.6,236.1 L447.3,236.7 L450.1,243.0 L449.5,247.5 L447.3,249.8 L443.9,249.2 L442.2,244.1Z" style="fill:#fff"/>
<path class="ln" d="M442.3,240.8 L449.0,239.6"/>
<path class="ln" d="M443.2,246.0 L449.8,244.6"/>
<circle class="ln" cx="447.2" cy="254.3" r="3.4" style="fill:#fff"/>
<circle class="ln" cx="447.4" cy="254.6" r="1.0" style="fill:#fff"/>
<line x1="464" y1="261.5" x2="474.5" y2="265.4" stroke="#1a1a1a" stroke-width="3.8"/>
<line x1="464" y1="261.5" x2="474.5" y2="265.4" stroke="#fff" stroke-width="1.9999999999999998" stroke-dasharray="1 1"/>
<polygon points="477.8,265.4 476.1,268.3 472.9,268.3 471.2,265.4 472.9,262.5 476.1,262.5" fill="#fff" stroke="#111" stroke-width="1.2"/>
<circle class="ln" cx="474.7" cy="265.59999999999997" r="1.4849999999999999" style="fill:#fff"/>
<path class="ds" d="M503.2,263.6 L509.5,275.2"/>
<path class="ds" d="M497.9,328.6 L513.0,324.1"/>
<path class="ds" d="M533.6,368.8 L544.3,373.2"/>
<path class="ln" d="M508.8,273.4C509.4,271.0 511.2,263.7 512.4,258.8C513.6,253.9 515.0,247.8 516.1,244.2C517.2,240.5 517.8,238.8 519.0,236.9C520.2,235.0 521.4,233.7 523.4,232.5C525.4,231.3 528.0,230.1 530.7,229.6C533.4,229.1 536.8,229.2 539.5,229.6C542.2,230.0 544.7,230.8 546.8,231.8C548.9,232.8 550.7,233.9 551.9,235.5C553.1,237.1 553.6,238.9 554.1,241.3C554.6,243.7 554.7,248.6 554.8,250.1"/>
<path class="ln" d="M516.1,273.4C516.7,271.0 518.5,263.7 519.7,258.8C520.9,253.9 522.2,247.6 523.4,244.2C524.6,240.8 525.5,239.8 527.0,238.4C528.5,237.0 530.0,236.2 532.1,235.5C534.2,234.8 537.3,234.0 539.5,234.0C541.7,234.0 543.7,234.8 545.3,235.5C546.9,236.2 548.1,237.0 549.0,238.4C549.9,239.8 550.3,242.2 550.4,244.2C550.5,246.1 549.8,249.1 549.7,250.1"/>
<path class="ln" d="M516.2,239.3 L520.5,236.4 L528.8,237.2 L529.3,241.2 L524.5,244.3 L517.2,244.2Z" style="fill:#fff"/>
<path class="ln" d="M518.5,239.0C519.1,239.4 520.4,241.2 522.0,241.4C523.6,241.6 527.0,240.5 528.0,240.3"/>
<path class="ln" d="M506.8,276.0 L510.0,272.8 L515.8,272.6 L516.9,276.3 L514.0,280.5 L508.0,281.4Z" style="fill:#fff"/>
<circle class="ln" cx="511.6" cy="277.2" r="1.1" style="fill:#fff"/>
<line x1="502.6" y1="263.8" x2="496" y2="253.8" stroke="#1a1a1a" stroke-width="3.6"/>
<line x1="502.6" y1="263.8" x2="496" y2="253.8" stroke="#fff" stroke-width="1.8" stroke-dasharray="1 1"/>
<polygon points="499.4,253.8 497.7,256.7 494.3,256.7 492.6,253.8 494.3,250.9 497.7,250.9" fill="#fff" stroke="#111" stroke-width="1.2"/>
<circle class="ln" cx="496.2" cy="254.0" r="1.53" style="fill:#fff"/>
<path class="ln" d="M543.8,258.8C542.8,260.8 539.7,266.6 537.5,271.0C535.3,275.4 532.7,281.3 530.7,285.1C528.7,288.9 527.1,291.3 525.5,294.0C523.9,296.7 521.8,299.9 521.0,301.1"/>
<path class="ln" d="M549.7,260.3C548.6,262.4 545.2,268.9 543.0,273.0C540.8,277.1 538.3,281.6 536.5,285.1C534.7,288.6 533.4,291.0 532.0,294.0C530.6,297.0 528.8,301.4 528.2,302.9"/>
<path class="ln" d="M549.7,255.9 L560.6,255.2 L561.4,263.2 L560.0,273.4 L554.1,271.3 L550.4,264.7Z" style="fill:#fff"/>
<path d="M550.5,259 L553,258.3 L555,260.5 L558,259.8 L560.8,261 M551.2,263 L553.5,262 L556,264.5 L558.5,263.6 L561,265.2 M552.8,267.5 L555,266.5 L557.5,268.8 L560.5,268 M553,258.3 L553.5,262 M558,259.8 L558.5,263.6 M555,266.5 L556,264.5" stroke="#222" stroke-width="0.8" fill="none"/>
<path class="ln" d="M535.8,253.7 L542.4,249.3 L548.2,250.8 L552.6,251.5 L559.9,253.7 L558.4,255.9 L551.1,257.4 L545.3,258.8 L538.0,256.6Z" style="fill:#fff"/>
<path class="ln" d="M537.0,254.8C538.7,255.0 543.3,255.8 547.0,255.8C550.7,255.8 557.0,254.8 559.0,254.6"/>
<path class="ln" d="M542.6,249.6C543.1,250.1 544.5,251.6 545.5,252.5C546.5,253.4 548.0,254.4 548.5,254.8"/>
<path class="ln" d="M505.0,305.8 L506.8,301.8 L519.3,300.6 L528.2,303.6 L529.2,305.5 L529.2,319.5 L526.5,322.5 L516.8,323.6 L506.2,322.0 L505.0,320.0Z" style="fill:#fff"/>
<path class="ln" d="M506.4,305.5 L516.6,307.5 L528.5,304.2"/>
<path class="ln" d="M516.6,307.5 L516.8,323.3"/>
<path class="ln" d="M507.5,307.5 L507.8,321.0"/>
<circle class="ln" cx="522.3" cy="315.3" r="4.5" style="fill:#fff"/>
<circle class="ln" cx="522.7" cy="315.7" r="1.2" style="fill:#fff"/>
<line x1="497.9" y1="329" x2="488.9" y2="331" stroke="#1a1a1a" stroke-width="3.6"/>
<line x1="497.9" y1="329" x2="488.9" y2="331" stroke="#fff" stroke-width="1.8" stroke-dasharray="1 1"/>
<polygon points="492.1,331.0 490.5,333.8 487.3,333.8 485.7,331.0 487.3,328.2 490.5,328.2" fill="#fff" stroke="#111" stroke-width="1.2"/>
<circle class="ln" cx="489.09999999999997" cy="331.2" r="1.4400000000000002" style="fill:#fff"/>
<path d="M516.6,323.6C516.3,325.6 515.6,331.3 515.0,335.7C514.4,340.1 513.4,345.2 513.2,350.0C513.0,354.8 513.2,359.8 513.9,364.3C514.6,368.8 515.7,372.9 517.5,376.8C519.3,380.7 521.3,384.7 524.6,387.5C527.9,390.3 532.6,392.6 537.1,393.8C541.6,395.0 546.9,395.1 551.4,394.6C555.9,394.2 560.6,393.2 563.9,391.1C567.2,389.0 569.5,385.4 571.0,382.1C572.5,378.8 573.2,375.0 572.9,371.4C572.6,367.8 571.1,363.5 569.3,360.7C567.5,357.9 564.8,355.8 562.1,354.5C559.4,353.2 556.2,352.7 553.2,352.7C550.2,352.7 547.2,353.3 544.3,354.5C541.4,355.7 538.0,358.5 536.0,360.0C534.0,361.5 532.7,362.9 532.0,363.5" fill="none" stroke="#1a1a1a" stroke-width="2.6" stroke-linecap="round"/>
<path d="M516.6,323.6C516.3,325.6 515.6,331.3 515.0,335.7C514.4,340.1 513.4,345.2 513.2,350.0C513.0,354.8 513.2,359.8 513.9,364.3C514.6,368.8 515.7,372.9 517.5,376.8C519.3,380.7 521.3,384.7 524.6,387.5C527.9,390.3 532.6,392.6 537.1,393.8C541.6,395.0 546.9,395.1 551.4,394.6C555.9,394.2 560.6,393.2 563.9,391.1C567.2,389.0 569.5,385.4 571.0,382.1C572.5,378.8 573.2,375.0 572.9,371.4C572.6,367.8 571.1,363.5 569.3,360.7C567.5,357.9 564.8,355.8 562.1,354.5C559.4,353.2 556.2,352.7 553.2,352.7C550.2,352.7 547.2,353.3 544.3,354.5C541.4,355.7 538.0,358.5 536.0,360.0C534.0,361.5 532.7,362.9 532.0,363.5" fill="none" stroke="#fff" stroke-width="0.9" stroke-linecap="round"/>
<path class="ln" d="M522.3,365.5 L524.8,361.0 L529.8,360.2 L534.0,361.8 L535.0,364.5 L534.0,369.8 L531.3,374.5 L527.5,378.4 L523.0,379.0 L521.0,375.0 L520.7,370.5Z" style="fill:#fff"/>
<path class="ln" d="M523.8,364.0C524.7,363.7 527.5,362.5 529.2,362.4C530.9,362.3 533.4,363.3 534.2,363.5"/>
<path d="M522.3,366 L520.5,367.8 L522,369.4 L520.3,371.5 L521.9,373" stroke="#111" stroke-width="1" fill="none"/>
<circle class="ln" cx="527.4" cy="370.6" r="1.6" style="fill:#fff"/>
<polygon points="549.7,375.1 547.1,377.7 543.7,376.7 542.7,373.3 545.3,370.7 548.7,371.7" fill="#fff" stroke="#111" stroke-width="1.4"/>
<circle class="ln" cx="546.4000000000001" cy="374.4" r="1.8" style="fill:#fff"/>
<polygon points="555.9,383.1 553.3,385.7 549.9,384.7 548.9,381.3 551.5,378.7 554.9,379.7" fill="#fff" stroke="#111" stroke-width="1.4"/>
<circle class="ln" cx="552.6" cy="382.4" r="1.8" style="fill:#fff"/>
<path class="ln" d="M561.4,231.1 L564.3,227.4 L571.6,225.2 L578.9,226.0 L583.3,229.6 L584.7,235.5 L584.0,239.8 L576.0,236.9 L568.7,234.7 L561.4,233.3Z" style="fill:#fff"/>
<path class="ln" d="M562.0,229.8C563.0,229.7 565.8,228.8 568.0,229.0C570.2,229.2 573.8,231.1 575.5,231.0C577.2,230.9 578.0,228.7 578.5,228.2"/>
<path class="ln" d="M575.5,231.0L575.5,236.5"/>
<path class="ln" d="M562.5,232.5C563.3,232.3 566.0,231.6 567.5,231.5C569.0,231.4 570.8,231.9 571.5,232.0"/>
</g>
</svg>
</body></html>
